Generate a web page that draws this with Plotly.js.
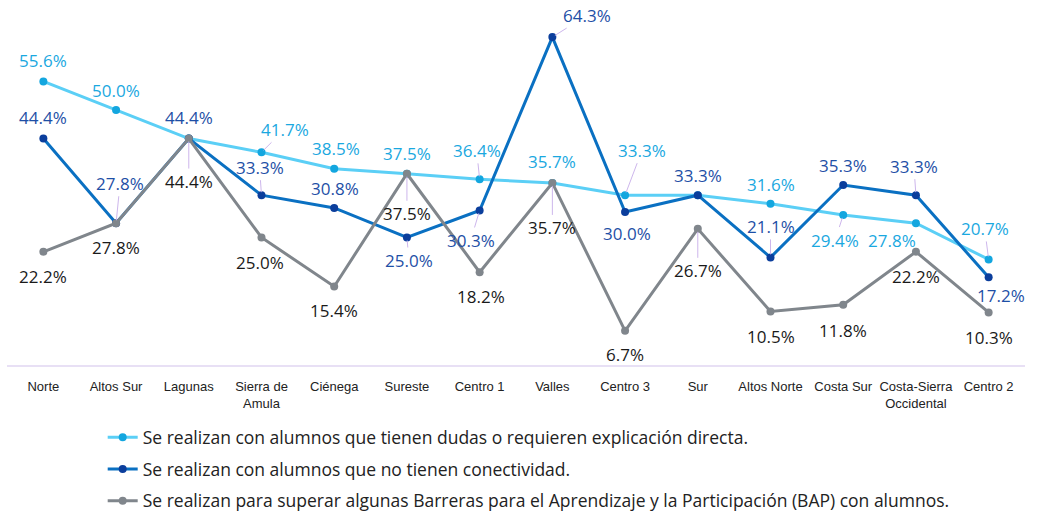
<!DOCTYPE html>
<html>
<head>
<meta charset="utf-8">
<script src="https://cdn.plot.ly/plotly-3.0.1.min.js"></script>
<style>html,body{margin:0;padding:0;background:#fff;}#chart{width:1040px;height:514px;}</style>
</head>
<body>
<div id="chart"></div>
<script>
const categories = ["Norte","Altos Sur","Lagunas","Sierra de<br>Amula","Ciénega","Sureste","Centro 1","Valles","Centro 3","Sur","Altos Norte","Costa Sur","Costa-Sierra<br>Occidental","Centro 2"];
const seriesNames = [
  "Se realizan con alumnos que tienen dudas o requieren explicación directa.",
  "Se realizan con alumnos que no tienen conectividad.",
  "Se realizan para superar algunas Barreras para el Aprendizaje y la Participación (BAP) con alumnos."
];
const dudas = [55.6, 50.0, 44.4, 41.7, 38.5, 37.5, 36.4, 35.7, 33.3, 33.3, 31.6, 29.4, 27.8, 20.7];
const conectividad = [44.4, 27.8, 44.4, 33.3, 30.8, 25.0, 30.3, 64.3, 30.0, 33.3, 21.1, 35.3, 33.3, 17.2];
const bap = [22.2, 27.8, 44.4, 25.0, 15.4, 37.5, 18.2, 35.7, 6.7, 26.7, 10.5, 11.8, 22.2, 10.3];

// label placement (pixel offsets of label centre from point, leader flag)
const labelOffsets = [
  [[0,-21,0],[0,-20,0],[0,-21,0],[23,-23,1],[2,-20,0],[0,-20,0],[-3,-29,1],[0,-21,0],[17,-45,1],[0,-20,0],[0,-19,0],[-8,25,1],[-24,17,0],[-4,-31,1]],
  [[0,-21,0],[4,-40,1],[0,-21,0],[-2,-28,1],[1,-19,0],[2,23,1],[-9,30,1],[35,-22,1],[2,21,0],[0,-20,0],[0,-31,1],[0,-19,0],[-2,-29,1],[12,18,0]],
  [[0,25,0],[0,24,0],[0,43,1],[-2,25,0],[0,24,0],[0,40,1],[1,24,0],[0,45,1],[0,24,0],[0,42,1],[0,25,0],[0,26,0],[0,25,0],[0,25,0]]
];

const lineColors = ["#5BCFF6", "#0A70C2", "#80868C"];
const markerColors = ["#13A6DF", "#0B3E9C", "#80868C"];
const labelColors = ["#1AA8DF", "#1E4FA6", "#1a1a1a"];
const allSeries = [dudas, conectividad, bap];

const traces = allSeries.map((vals, i) => ({
  type: "scatter",
  mode: "lines+markers",
  x: categories,
  y: vals,
  name: seriesNames[i],
  legendgroup: "g" + i,
  line: {color: lineColors[i], width: 3},
  marker: {color: markerColors[i], size: 8},
  hoverinfo: "skip"
}));

const annotations = [];
allSeries.forEach((vals, i) => {
  vals.forEach((v, j) => {
    // a label that coincides with the next series' label at the same point is drawn once
    if (i === 0 && conectividad[j] === v) return;
    const o = labelOffsets[i][j];
    annotations.push({
      x: categories[j], y: v, xref: "x", yref: "y",
      text: v.toFixed(1) + "%",
      showarrow: true,
      ax: o[0], ay: o[1],
      arrowhead: 0,
      arrowwidth: 1,
      standoff: 3,
      arrowcolor: o[2] ? "#CDB6EC" : "rgba(0,0,0,0)",
      font: {family: "Open Sans", size: 17, color: labelColors[i]}
    });
  });
});

const layout = {
  width: 1040, height: 514,
  margin: {l: 7, r: 15, t: 8, b: 149, autoexpand: false},
  paper_bgcolor: "#ffffff",
  plot_bgcolor: "#ffffff",
  showlegend: true,
  legend: {
    orientation: "v",
    x: 0.094, xanchor: "left",
    y: -0.152, yanchor: "top",
    font: {family: "Open Sans", size: 17.5, color: "#222222"},
    tracegroupgap: 6,
    itemwidth: 30
  },
  xaxis: {
    type: "category",
    range: [-0.5, 13.5],
    showgrid: false,
    zeroline: false,
    showline: true,
    linecolor: "#E8E0F5",
    linewidth: 2,
    ticks: "outside",
    ticklen: 8,
    tickcolor: "rgba(0,0,0,0)",
    tickfont: {family: "Liberation Sans, Arial", size: 13, color: "#222222"},
    fixedrange: true
  },
  yaxis: {
    range: [0, 70],
    visible: false,
    showgrid: false,
    zeroline: false,
    fixedrange: true
  },
  annotations: annotations
};

Plotly.newPlot("chart", traces, layout, {displayModeBar: false, staticPlot: true});
</script>
</body>
</html>
